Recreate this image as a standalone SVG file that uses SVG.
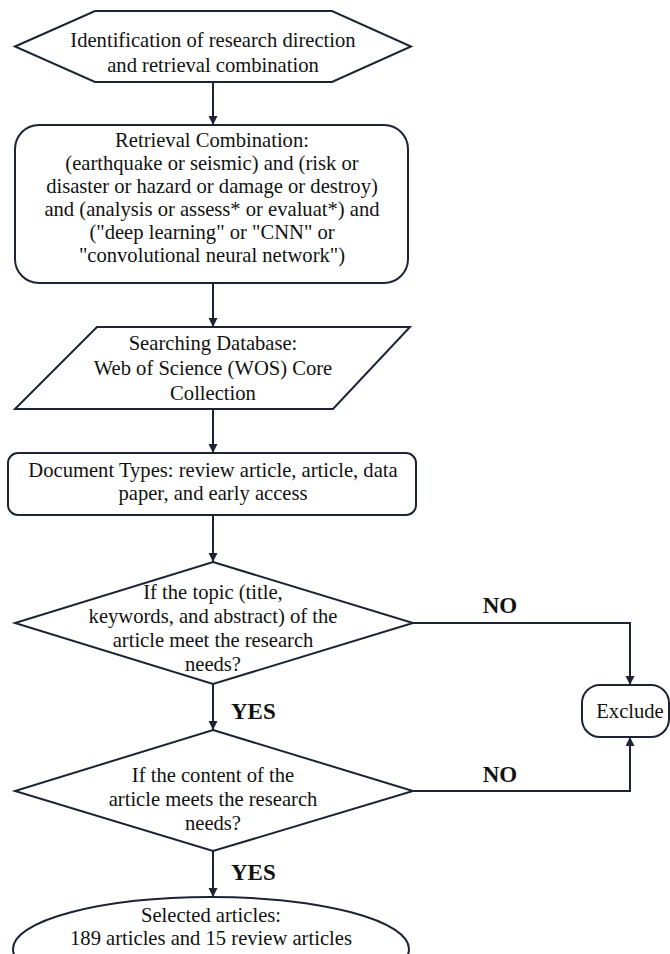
<svg xmlns="http://www.w3.org/2000/svg" width="670" height="954" viewBox="0 0 670 954">
<style>
.s{fill:#fff;stroke:#1c2434;stroke-width:2}
.t{font-family:"Liberation Serif","Times New Roman",serif;font-size:20.6px;fill:#111;text-anchor:middle}
.b{font-family:"Liberation Serif","Times New Roman",serif;font-size:23px;font-weight:bold;fill:#111}
.c{fill:none;stroke:#1c2434;stroke-width:2}
</style>
<defs>
<marker id="ah" markerUnits="userSpaceOnUse" markerWidth="10" markerHeight="10" refX="9" refY="4.5" orient="auto">
<path d="M0,0 L9,4.5 L0,9 z" fill="#1c2434"/>
</marker>
</defs>
<rect width="670" height="954" fill="#fff"/>
<g id="connectors">
<line class="c" x1="213" y1="82" x2="213" y2="125" marker-end="url(#ah)"/>
<line class="c" x1="213" y1="283" x2="213" y2="327" marker-end="url(#ah)"/>
<line class="c" x1="213" y1="409" x2="213" y2="453" marker-end="url(#ah)"/>
<line class="c" x1="213" y1="515" x2="213" y2="562" marker-end="url(#ah)"/>
<line class="c" x1="213" y1="684" x2="213" y2="730" marker-end="url(#ah)"/>
<line class="c" x1="213" y1="851" x2="213" y2="897" marker-end="url(#ah)"/>
<polyline class="c" points="413,623 630,623 630,685" marker-end="url(#ah)"/>
<polyline class="c" points="413,791 630,791 630,737" marker-end="url(#ah)"/>
<text class="b" x="500" y="613" text-anchor="middle">NO</text>
<text class="b" x="500" y="782" text-anchor="middle">NO</text>
<text class="b" x="231" y="719">YES</text>
<text class="b" x="231" y="880">YES</text>
</g>
<g id="start">
<polygon class="s" points="15,46.5 95,11 332,11 411,46.5 332,82 95,82"/>
<text class="t" x="213" y="47">Identification of research direction</text>
<text class="t" x="213" y="72">and retrieval combination</text>
</g>
<g id="retrieval">
<rect class="s" x="15" y="125" width="393" height="158" rx="24"/>
<text class="t" x="212" y="147">Retrieval Combination:</text>
<text class="t" x="212" y="170">(earthquake or seismic) and (risk or</text>
<text class="t" x="212" y="193">disaster or hazard or damage or destroy)</text>
<text class="t" x="212" y="216">and (analysis or assess* or evaluat*) and</text>
<text class="t" x="212" y="239">("deep learning" or "CNN" or</text>
<text class="t" x="212" y="262">"convolutional neural network")</text>
</g>
<g id="database">
<polygon class="s" points="97,327 410,327 333,409 15,409"/>
<text class="t" x="213" y="350">Searching Database:</text>
<text class="t" x="213" y="375">Web of Science (WOS) Core</text>
<text class="t" x="213" y="400">Collection</text>
</g>
<g id="doctypes">
<rect class="s" x="8" y="453" width="408" height="62" rx="10"/>
<text class="t" x="213" y="477">Document Types: review article, article, data</text>
<text class="t" x="213" y="500">paper, and early access</text>
</g>
<g id="decision1">
<polygon class="s" points="213,562 413,623 213,684 15,623"/>
<text class="t" x="213" y="599">If the topic (title,</text>
<text class="t" x="213" y="623">keywords, and abstract) of the</text>
<text class="t" x="213" y="647">article meet the research</text>
<text class="t" x="213" y="671">needs?</text>
</g>
<g id="decision2">
<polygon class="s" points="213,730 413,791 213,851 15,791"/>
<text class="t" x="213" y="782">If the content of the</text>
<text class="t" x="213" y="806">article meets the research</text>
<text class="t" x="213" y="830">needs?</text>
</g>
<g id="exclude">
<rect class="s" x="582" y="685" width="87" height="52" rx="18"/>
<text class="t" x="630" y="718">Exclude</text>
</g>
<g id="selected">
<ellipse class="s" cx="211" cy="949" rx="198" ry="52"/>
<text class="t" x="211" y="922">Selected articles:</text>
<text class="t" x="211" y="945">189 articles and 15 review articles</text>
</g>
</svg>
